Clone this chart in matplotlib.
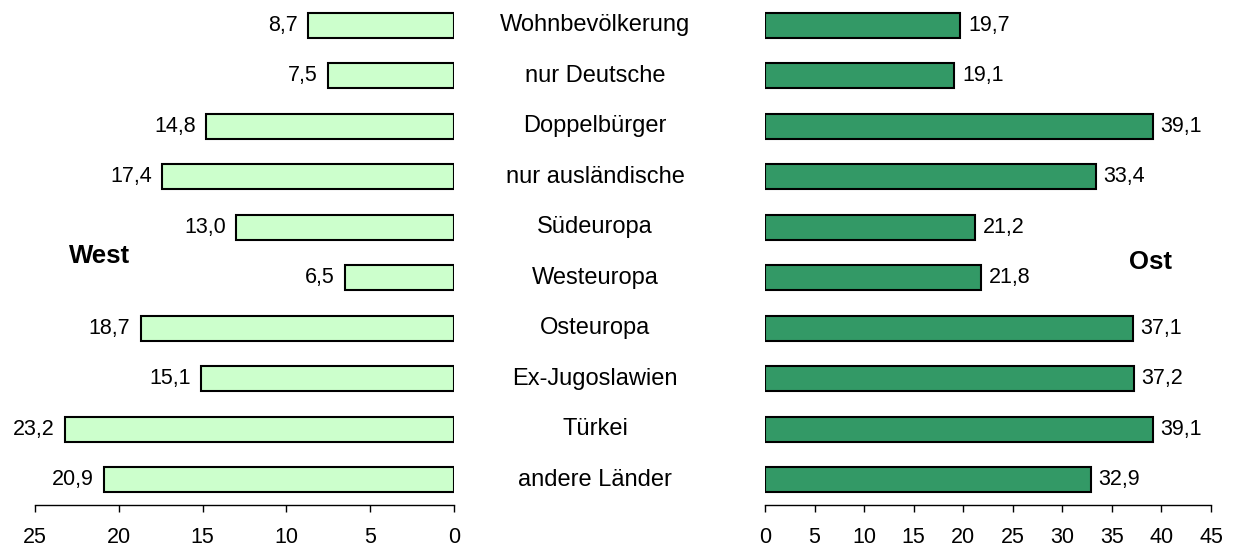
import matplotlib
matplotlib.use("Agg")
import matplotlib.pyplot as plt
import matplotlib.transforms as mtransforms

plt.rcParams['font.family'] = ['Liberation Sans', 'DejaVu Sans']

# Kategorien von oben nach unten
kategorien = ['Wohnbevölkerung', 'nur Deutsche', 'Doppelbürger', 'nur ausländische',
              'Südeuropa', 'Westeuropa', 'Osteuropa', 'Ex-Jugoslawien', 'Türkei',
              'andere Länder']
werte_west = [8.7, 7.5, 14.8, 17.4, 13.0, 6.5, 18.7, 15.1, 23.2, 20.9]
werte_ost = [19.7, 19.1, 39.1, 33.4, 21.2, 21.8, 37.1, 37.2, 39.1, 32.9]
ticks_west = [0, 5, 10, 15, 20, 25]
ticks_ost = [0, 5, 10, 15, 20, 25, 30, 35, 40, 45]

W, H = 1235, 547
fig = plt.figure(figsize=(W / 100, H / 100), dpi=100)

ax_w = fig.add_axes([35 / W, 1 - 505 / H, 419 / W, 505 / H])
ax_o = fig.add_axes([765 / W, 1 - 505 / H, 446 / W, 505 / H])

pos = list(range(len(kategorien)))
fs = 15.5


def format_de(v):
    return f'{v:.1f}'.replace('.', ',')


def style_axis(ax, ticks, xlim):
    ax.set_xlim(*xlim)
    ax.set_ylim(len(kategorien) - 0.5, -0.5)
    for s in ['top', 'left', 'right']:
        ax.spines[s].set_visible(False)
    ax.spines['bottom'].set_linewidth(1.0)
    ax.set_yticks([])
    ax.set_xticks(ticks)
    ax.set_xticklabels([str(t) for t in ticks], fontsize=fs)
    ax.tick_params(axis='x', direction='out', length=5, width=1.0, pad=11)
    ax.patch.set_visible(False)


# West (nach links)
ax_w.barh(pos, werte_west, height=0.5, color='#CCFFCC', edgecolor='black', linewidth=1.5)
style_axis(ax_w, ticks_west, (25, 0))
for y, v in zip(pos, werte_west):
    ax_w.annotate(format_de(v), (v, y), xytext=(-7.5, 0), textcoords='offset points',
                  ha='right', va='center', fontsize=fs)

# Ost (nach rechts)
ax_o.barh(pos, werte_ost, height=0.5, color='#339966', edgecolor='black', linewidth=1.5)
style_axis(ax_o, ticks_ost, (0, 45))
for y, v in zip(pos, werte_ost):
    ax_o.annotate(format_de(v), (v, y), xytext=(5.5, 0), textcoords='offset points',
                  ha='left', va='center', fontsize=fs)

# Kategorienamen in der Mitte
trans = mtransforms.blended_transform_factory(fig.transFigure, ax_w.transData)
for y, name in zip(pos, kategorien):
    fig.text(595 / W, y, name, transform=trans, ha='center', va='center', fontsize=17)

fig.text(100 / W, 1 - 256 / H, 'West', ha='center', va='center', fontsize=18.5,
         fontweight='bold')
fig.text(1150 / W, 1 - 262 / H, 'Ost', ha='center', va='center', fontsize=18.5,
         fontweight='bold')

fig.savefig('out.png', dpi=100)
